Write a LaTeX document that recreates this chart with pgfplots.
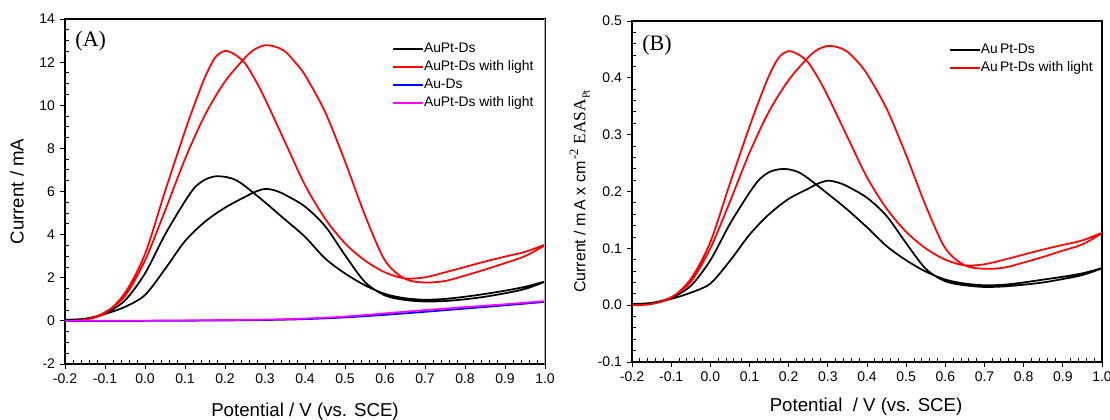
\documentclass[border=0pt]{standalone}
\usepackage{fontspec}
\setmainfont{Liberation Sans}
\newfontfamily\seriffont{Liberation Serif}
\usepackage{pgfplots}
\pgfplotsset{compat=1.18}
\definecolor{mag}{RGB}{255,0,255}
\pgfplotsset{
  cvbase/.style={
    scale only axis,
    xmin=-0.2, xmax=1.0,
    xtick={-0.2,-0.1,0,0.1,0.2,0.3,0.4,0.5,0.6,0.7,0.8,0.9,1.0},
    minor x tick num=4,
    xtick pos=bottom, ytick pos=left,
    tick align=outside,
    major tick length=4pt, minor tick length=3pt,
    minor x tick style={yshift=3pt},
    minor y tick style={xshift=3pt},
    /pgf/number format/assume math mode=true,
    xticklabel style={/pgf/number format/.cd, fixed, fixed zerofill, precision=1},
    tick label style={font=\fontsize{10.5}{12}\selectfont},
    label style={font=\fontsize{14}{16}\selectfont},
    axis line style={line width=0.8pt},
    every tick/.style={black, line width=0.7pt},
    legend cell align=left,
    legend style={draw=none, fill=none, inner sep=0pt, font=\fontsize{10.4}{12}\selectfont, row sep=4pt,
      nodes={inner sep=0pt, text height=7.5pt, text depth=2pt}},
    legend image code/.code={\draw[#1, line width=1.4pt] (0pt,0pt) -- (22.5pt,0pt);},
    every axis plot/.append style={line width=1.3pt, smooth, tension=0.5},
    clip=true,
  }
}
\begin{document}
\begin{tikzpicture}
\useasboundingbox (0,0) rectangle (832.5pt,314.25pt);
% ---------------- Panel A ----------------
\begin{axis}[cvbase,
  at={(48.75pt,41.25pt)}, anchor=south west,
  width=360pt, height=258.75pt,
  ymin=-2, ymax=14, ytick={-2,0,2,4,6,8,10,12,14}, minor y tick num=3,
  xlabel={Potential / V (vs. SCE)}, ylabel={Current / mA},
  xlabel style={at={(axis description cs:0.5,-0.139)}, anchor=center},
  ylabel style={at={(axis description cs:-0.1,0.5)}, anchor=center},
  legend style={at={(rel axis cs:0.681,0.933)}, anchor=north west},
]
\addplot[black] coordinates {
(-0.20,0.05) (-0.15,0.10) (-0.10,0.32) (-0.05,0.65) (0.00,1.20) (0.05,2.40) (0.10,3.70) (0.15,4.60) (0.20,5.25) (0.25,5.75) (0.275,5.98) (0.30,6.12) (0.325,6.05) (0.35,5.85) (0.40,5.30) (0.45,4.40) (0.50,3.05) (0.55,1.80) (0.60,1.18) (0.65,0.97) (0.70,0.90) (0.75,0.92) (0.80,1.00) (0.85,1.12) (0.90,1.28) (0.95,1.48) (1.00,1.82)
(0.95,1.58) (0.90,1.40) (0.85,1.25) (0.80,1.12) (0.75,1.02) (0.70,0.98) (0.65,1.05) (0.60,1.25) (0.55,1.65) (0.50,2.20) (0.45,2.90) (0.40,3.90) (0.35,4.70) (0.30,5.50) (0.25,6.25) (0.225,6.55) (0.20,6.68) (0.175,6.70) (0.15,6.55) (0.125,6.20) (0.10,5.55) (0.05,4.00) (0.00,2.20) (-0.05,0.95) (-0.10,0.35) (-0.15,0.10) (-0.20,0.05)
};
\addlegendentry{AuPt-Ds}
\addplot[red] coordinates {
(-0.20,0.00) (-0.15,0.05) (-0.10,0.40) (-0.05,1.15) (0.00,2.80) (0.05,5.10) (0.10,7.50) (0.15,9.55) (0.20,11.10) (0.25,12.20) (0.275,12.60) (0.30,12.78) (0.325,12.72) (0.35,12.50) (0.375,12.00) (0.40,11.40) (0.45,9.70) (0.50,7.40) (0.55,4.90) (0.60,2.80) (0.65,1.95) (0.70,1.78) (0.75,1.85) (0.80,2.10) (0.85,2.38) (0.90,2.68) (0.95,3.00) (1.00,3.52)
(0.95,3.20) (0.90,2.98) (0.85,2.75) (0.80,2.50) (0.75,2.25) (0.70,2.02) (0.65,1.97) (0.60,2.25) (0.55,2.80) (0.50,3.60) (0.45,4.75) (0.40,6.30) (0.35,8.30) (0.30,10.30) (0.275,11.20) (0.25,11.95) (0.225,12.35) (0.20,12.52) (0.175,12.20) (0.15,11.30) (0.125,10.10) (0.10,8.80) (0.05,6.00) (0.00,3.10) (-0.05,1.30) (-0.10,0.35) (-0.15,0.05) (-0.20,0.00)
};
\addlegendentry{AuPt-Ds with light}
\addplot[blue] coordinates {
(-0.20,0.00) (0.00,0.00) (0.20,0.02) (0.30,0.04) (0.40,0.08) (0.50,0.16) (0.60,0.28) (0.70,0.42) (0.80,0.57) (0.90,0.72) (1.00,0.88)
};
\addlegendentry{Au-Ds}
\addplot[mag] coordinates {
(-0.20,0.00) (0.00,0.01) (0.20,0.04) (0.30,0.06) (0.40,0.11) (0.50,0.20) (0.60,0.35) (0.70,0.50) (0.80,0.64) (0.90,0.77) (1.00,0.92)
};
\addlegendentry{AuPt-Ds with light}
\draw[gray!70, line width=0.9pt] (rel axis cs:1,0) -- (rel axis cs:1,1);
\node[anchor=west, font=\seriffont\fontsize{16.5}{18}\selectfont] at (rel axis cs:0.012,0.937) {(A)};
\end{axis}
% ---------------- Panel B ----------------
\begin{axis}[cvbase,
  at={(474pt,42.75pt)}, anchor=south west,
  width=352.5pt, height=255.75pt,
  ymin=-0.1, ymax=0.5, ytick={-0.1,0,0.1,0.2,0.3,0.4,0.5}, minor y tick num=4,
  yticklabel style={/pgf/number format/.cd, fixed, fixed zerofill, precision=1},
  xlabel={Potential \ / V (vs. SCE)},
  ylabel={\fontsize{12}{14}\selectfont Current / m\,A x cm\raisebox{0.45em}{\seriffont\fontsize{9.5}{11}\selectfont\,-2} {\seriffont\fontsize{13}{15}\selectfont EASA\raisebox{-0.25em}{\fontsize{8}{9}\selectfont Pt}}},
  xlabel style={at={(axis description cs:0.498,-0.132)}, anchor=center},
  ylabel style={at={(axis description cs:-0.111,0.5)}, anchor=center},
  legend style={at={(rel axis cs:0.674,0.935)}, anchor=north west},
]
\addplot[black] coordinates {
(-0.20,0.002) (-0.15,0.004) (-0.10,0.011) (-0.05,0.022) (0.00,0.038) (0.05,0.078) (0.10,0.124) (0.15,0.160) (0.20,0.187) (0.25,0.205) (0.275,0.214) (0.30,0.219) (0.325,0.216) (0.35,0.209) (0.40,0.189) (0.45,0.157) (0.50,0.109) (0.55,0.064) (0.60,0.042) (0.65,0.035) (0.70,0.032) (0.75,0.033) (0.80,0.036) (0.85,0.040) (0.90,0.046) (0.95,0.053) (1.00,0.065)
(0.95,0.056) (0.90,0.050) (0.85,0.045) (0.80,0.040) (0.75,0.036) (0.70,0.035) (0.65,0.038) (0.60,0.045) (0.55,0.059) (0.50,0.079) (0.45,0.104) (0.40,0.137) (0.35,0.168) (0.30,0.196) (0.25,0.223) (0.225,0.234) (0.20,0.239) (0.175,0.239) (0.15,0.234) (0.125,0.221) (0.10,0.198) (0.05,0.143) (0.00,0.079) (-0.05,0.034) (-0.10,0.013) (-0.15,0.004) (-0.20,0.002)
};
\addlegendentry{Au\,Pt-Ds}
\addplot[red] coordinates {
(-0.20,0.000) (-0.15,0.002) (-0.10,0.014) (-0.05,0.041) (0.00,0.100) (0.05,0.182) (0.10,0.268) (0.15,0.341) (0.20,0.396) (0.25,0.436) (0.275,0.450) (0.30,0.456) (0.325,0.454) (0.35,0.446) (0.375,0.429) (0.40,0.407) (0.45,0.346) (0.50,0.264) (0.55,0.175) (0.60,0.100) (0.65,0.070) (0.70,0.064) (0.75,0.066) (0.80,0.075) (0.85,0.085) (0.90,0.096) (0.95,0.107) (1.00,0.127)
(0.95,0.114) (0.90,0.106) (0.85,0.098) (0.80,0.089) (0.75,0.080) (0.70,0.072) (0.65,0.070) (0.60,0.080) (0.55,0.100) (0.50,0.129) (0.45,0.170) (0.40,0.225) (0.35,0.296) (0.30,0.368) (0.275,0.400) (0.25,0.427) (0.225,0.441) (0.20,0.447) (0.175,0.436) (0.15,0.404) (0.125,0.361) (0.10,0.314) (0.05,0.214) (0.00,0.111) (-0.05,0.046) (-0.10,0.013) (-0.15,0.002) (-0.20,0.000)
};
\addlegendentry{Au\,Pt-Ds with light}
\node[anchor=west, font=\seriffont\fontsize{16.5}{18}\selectfont] at (rel axis cs:0.012,0.93) {(B)};
\end{axis}
\end{tikzpicture}
\end{document}
